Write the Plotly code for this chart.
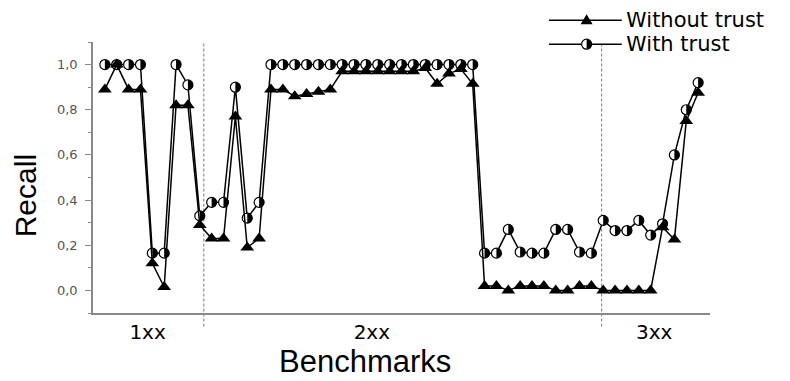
import numpy as np
import plotly.graph_objects as go

# ---- data ----
with_trust = [1.0, 1.0, 1.0, 1.0, 0.165, 0.165, 1.0, 0.91, 0.33,
              0.39, 0.39, 0.90, 0.32, 0.39,
              1.0, 1.0, 1.0, 1.0, 1.0, 1.0, 1.0, 1.0, 1.0, 1.0, 1.0, 1.0, 1.0, 1.0, 1.0, 1.0, 1.0, 1.0,
              0.165, 0.165, 0.27, 0.17, 0.165, 0.165, 0.27, 0.27, 0.17, 0.165,
              0.31, 0.265, 0.265, 0.31, 0.245, 0.295, 0.60, 0.80, 0.92]
without_trust = [0.89, 1.0, 0.89, 0.89, 0.12, 0.015, 0.82, 0.82, 0.29,
                 0.23, 0.23, 0.77, 0.19, 0.23,
                 0.89, 0.89, 0.86, 0.87, 0.88, 0.89,
                 0.97, 0.97, 0.97, 0.97, 0.97, 0.97, 0.97,
                 0.985, 0.915, 0.96, 0.98, 0.915,
                 0.02, 0.02, 0.0, 0.02, 0.02, 0.02, 0.0, 0.0, 0.02, 0.02,
                 0.0, 0.0, 0.0, 0.0, 0.0,
                 0.28, 0.225, 0.75, 0.875]
benchmarks = list(range(len(with_trust)))
group_labels = ["1xx", "2xx", "3xx"]
group_label_pos = [3.6, 22.5, 46.3]
group_separators = [8.34, 41.87]
series_names = ["Without trust", "With trust"]

fig = go.Figure()

fig.add_trace(go.Scatter(
    x=benchmarks, y=with_trust, mode="lines+markers", name=series_names[1],
    line=dict(color="black", width=1.5),
    marker=dict(symbol="circle", size=10, color="white", line=dict(color="black", width=1.2)),
    showlegend=False, cliponaxis=False))

fig.add_trace(go.Scatter(
    x=benchmarks, y=without_trust, mode="lines+markers", name=series_names[0],
    line=dict(color="black", width=1.5),
    marker=dict(symbol="triangle-up", size=12, color="black", line=dict(width=0)),
    showlegend=False, cliponaxis=False))

# right-half black fill for the "with trust" markers
r = 5.0
ang = np.linspace(-np.pi / 2, np.pi / 2, 13)
half_path = "M " + " L ".join(f"{r*np.cos(a):.2f},{r*np.sin(a):.2f}" for a in ang) + " Z"

shapes = []
for xv, yv in zip(benchmarks, with_trust):
    shapes.append(dict(type="path", xref="x", yref="y", xsizemode="pixel", ysizemode="pixel",
                       xanchor=xv, yanchor=yv, path=half_path,
                       fillcolor="black", line=dict(width=0), layer="above"))

# group separators
for xs in group_separators:
    shapes.append(dict(type="line", xref="x", yref="paper", x0=xs, x1=xs, y0=-0.05, y1=1.0,
                       line=dict(color="#777777", width=1, dash="3px,2px"), layer="below"))

# manual legend
leg_x0, leg_x1, leg_xm = 0.739, 0.857, 0.80
leg_y = [1.080, 0.992]
tri_path = "M -6,-4 L 6,-4 L 0,6 Z"
for yy in leg_y:
    shapes.append(dict(type="line", xref="paper", yref="paper", x0=leg_x0, x1=leg_x1, y0=yy, y1=yy,
                       line=dict(color="black", width=1.5)))
shapes.append(dict(type="path", xref="paper", yref="paper", xsizemode="pixel", ysizemode="pixel",
                   xanchor=leg_xm, yanchor=leg_y[0], path=tri_path, fillcolor="black", line=dict(width=0)))
shapes.append(dict(type="circle", xref="paper", yref="paper", xsizemode="pixel", ysizemode="pixel",
                   xanchor=leg_xm, yanchor=leg_y[1], x0=-5, x1=5, y0=-5, y1=5,
                   fillcolor="white", line=dict(color="black", width=1.2)))
shapes.append(dict(type="path", xref="paper", yref="paper", xsizemode="pixel", ysizemode="pixel",
                   xanchor=leg_xm, yanchor=leg_y[1], path=half_path, fillcolor="black", line=dict(width=0)))

annotations = [
    dict(text=series_names[0], xref="paper", yref="paper", x=0.862, y=leg_y[0], xanchor="left",
         yanchor="middle", showarrow=False, height=16, valign="middle", borderpad=0,
         font=dict(family="DejaVu Sans", size=21, color="black")),
    dict(text=series_names[1], xref="paper", yref="paper", x=0.862, y=leg_y[1], xanchor="left",
         yanchor="middle", showarrow=False, height=16, valign="middle", borderpad=0,
         font=dict(family="DejaVu Sans", size=21, color="black")),
    dict(text="Recall", xref="paper", yref="paper", x=-0.108, y=0.432, textangle=-90,
         xanchor="center", yanchor="middle", showarrow=False,
         font=dict(family="Liberation Sans", size=30, color="black")),
    dict(text="Benchmarks", xref="paper", yref="paper", x=0.441, y=-0.180,
         xanchor="center", yanchor="middle", showarrow=False,
         font=dict(family="Liberation Sans", size=31, color="black")),
]

# page body has an 8px margin: the figure is sized/placed to compensate
fig.update_layout(
    width=782, height=373,
    margin=dict(l=85, r=80, t=34, b=68),
    paper_bgcolor="white", plot_bgcolor="white",
    separators=",.",
    shapes=shapes, annotations=annotations,
    showlegend=False,
    xaxis=dict(range=[-1, 51], showgrid=False, zeroline=False,
               showline=True, linecolor="#8a8a8a", linewidth=1.5,
               tickmode="array", tickvals=group_label_pos, ticktext=group_labels,
               ticks="", tickfont=dict(family="DejaVu Sans", size=20, color="black")),
    yaxis=dict(range=[-0.1, 1.1], showgrid=False, zeroline=False,
               showline=True, linecolor="#8a8a8a", linewidth=1.5,
               tickmode="array", tickvals=[0, 0.2, 0.4, 0.6, 0.8, 1.0], tickformat=".1f",
               ticks="outside", ticklen=6, tickcolor="#8a8a8a", tickwidth=1,
               ticklabelstandoff=5,
               tickfont=dict(family="DejaVu Sans", size=13, color="#555555"),
               minor=dict(ticks="outside", ticklen=3, tickcolor="#8a8a8a", dtick=0.1,
                          tick0=0, showgrid=False)),
)

fig.write_html("out.html")
